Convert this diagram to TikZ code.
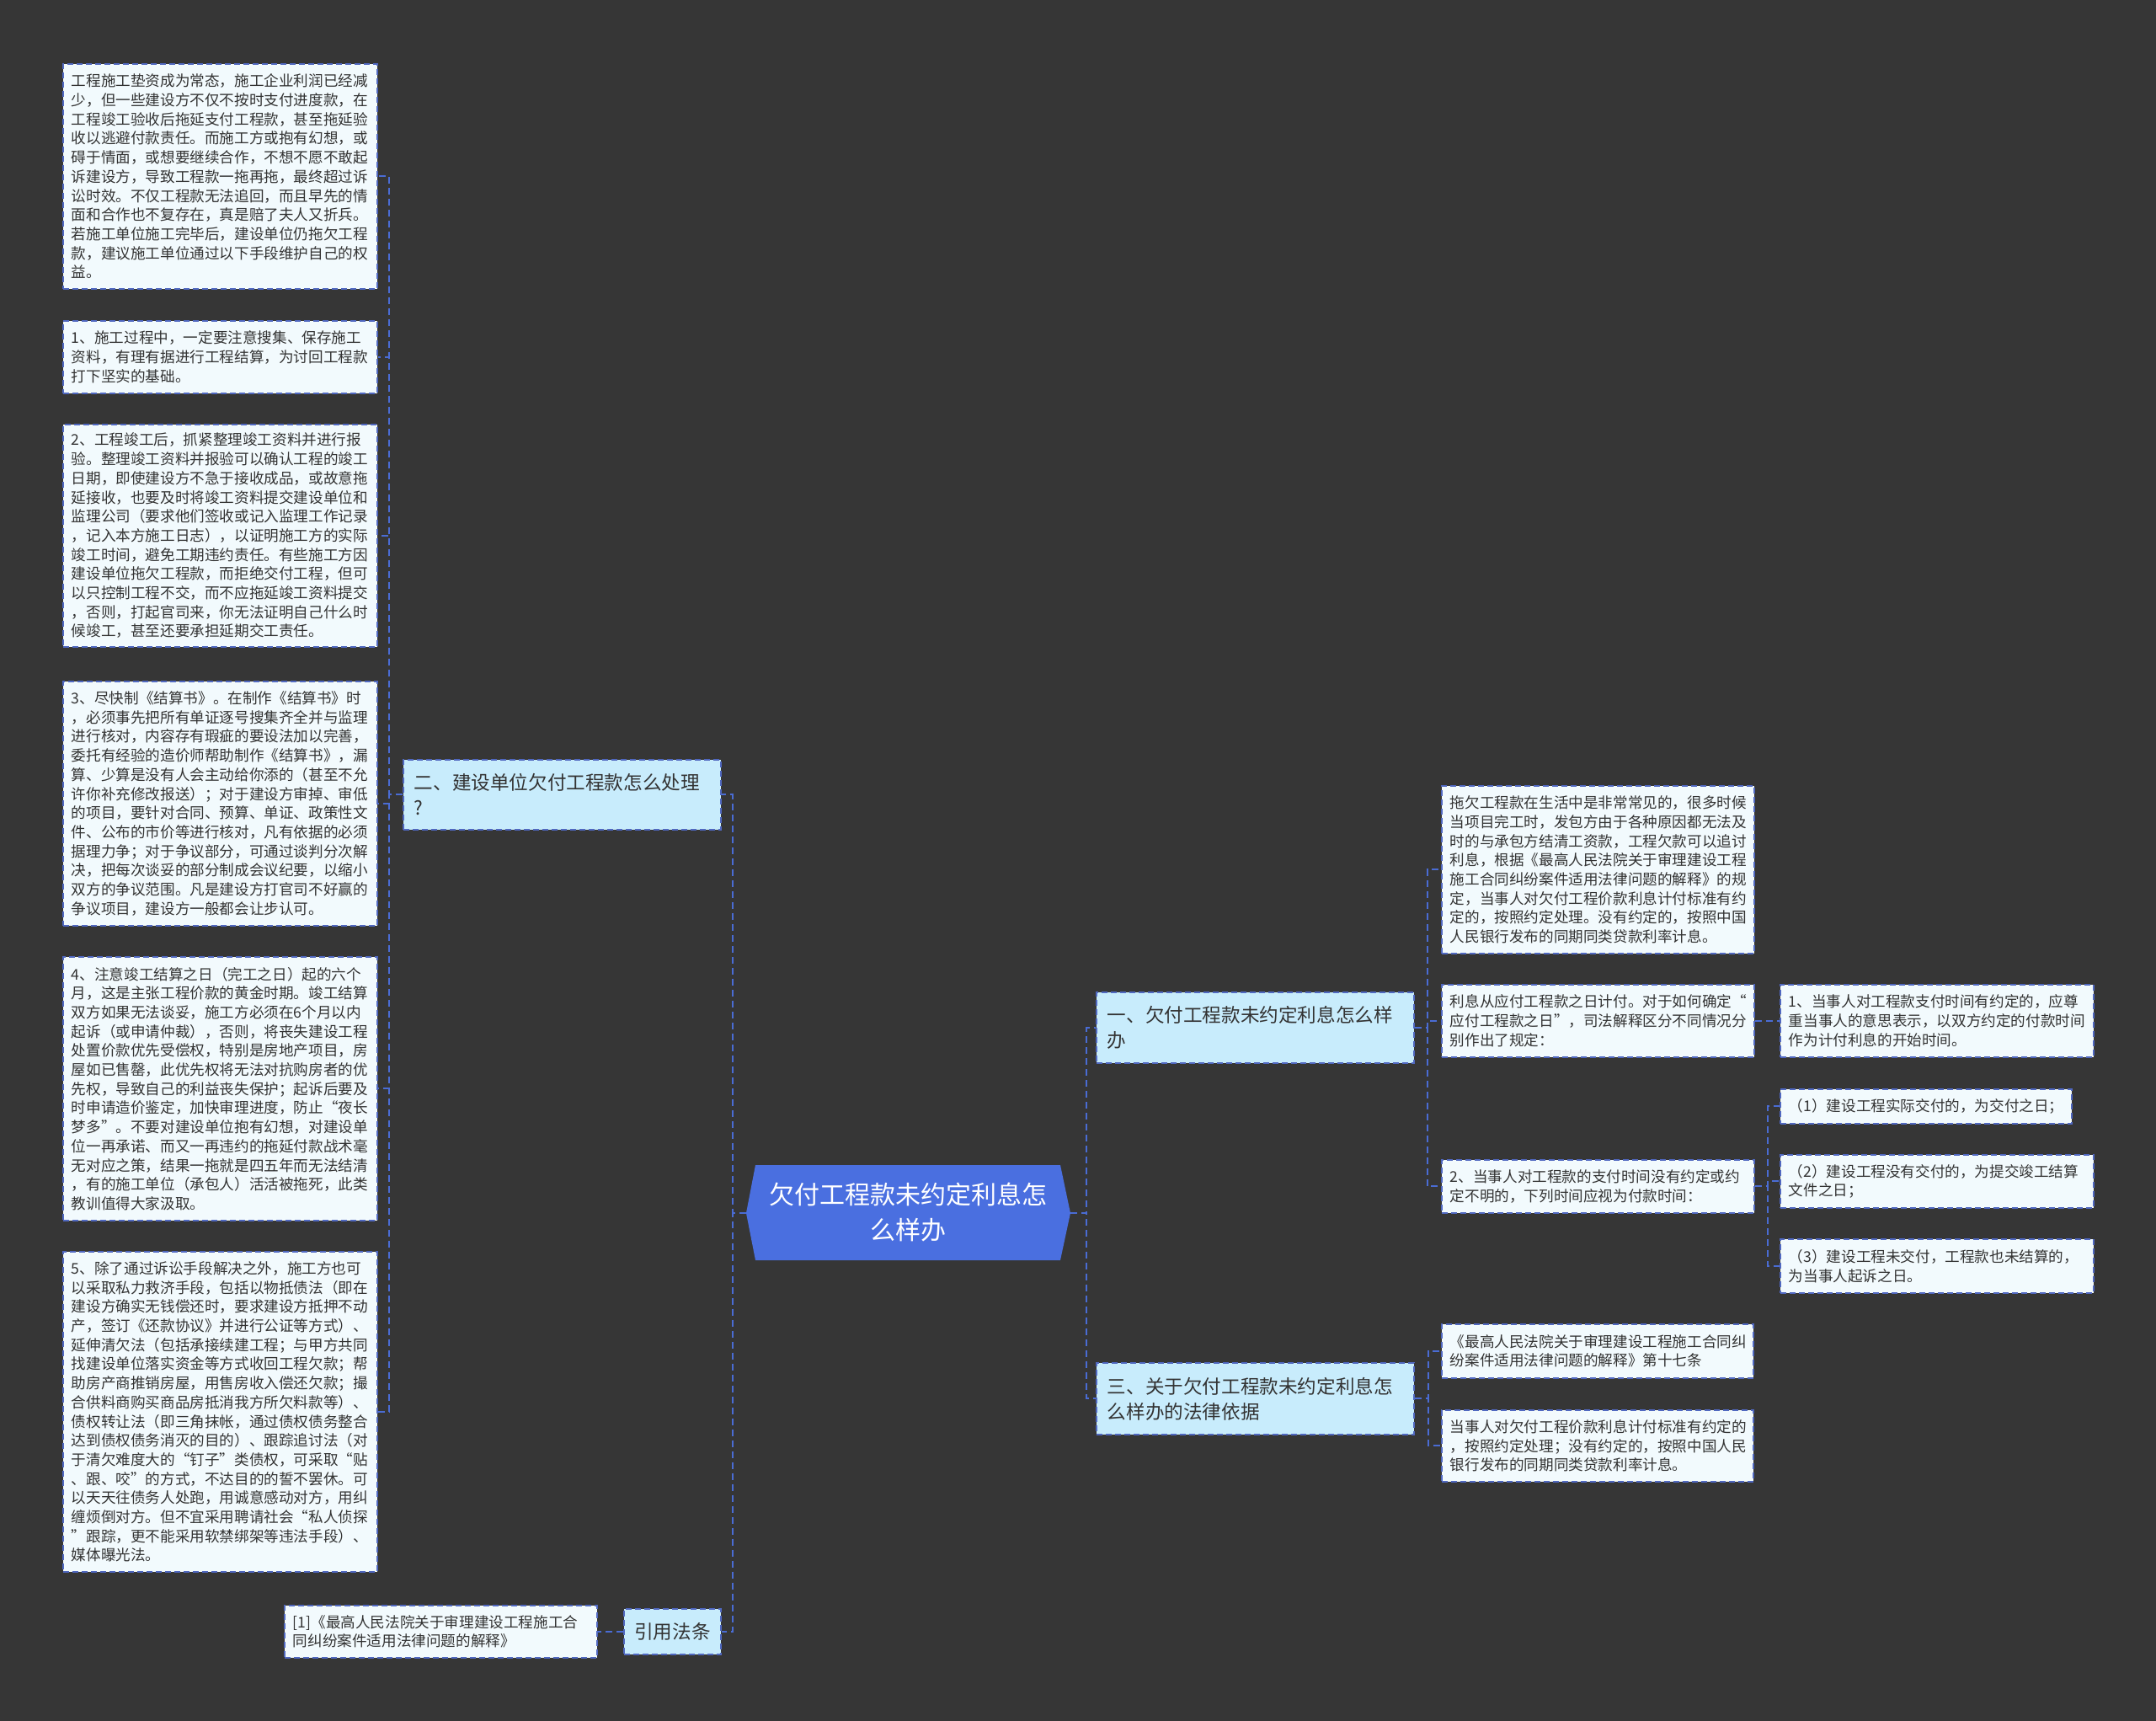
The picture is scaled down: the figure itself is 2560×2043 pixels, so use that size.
\documentclass[tikz,border=0pt]{standalone}
\usepackage{fontspec}
\setmainfont{Noto Sans CJK SC}
\usepackage{xcolor}
\usepackage{tikz}
\definecolor{bgdark}{HTML}{363636}
\definecolor{leaffill}{HTML}{F2FAFD}
\definecolor{topicfill}{HTML}{C8ECFC}
\definecolor{edgeblue}{HTML}{5068C0}
\definecolor{linkblue}{HTML}{4A6CD4}
\definecolor{rootblue}{HTML}{4A6FE0}
\definecolor{inkgray}{HTML}{333333}

\begin{document}
\begin{tikzpicture}[x=0.5pt, y=-0.5pt,
  link/.style={draw=linkblue, line width=1pt, dash pattern=on 4pt off 2.5pt},
  leaf/.style={draw=edgeblue, line width=0.9pt, dash pattern=on 3.5pt off 2pt,
    fill=leaffill, text=inkgray, anchor=north west, align=left,
    inner xsep=5pt, inner ysep=2pt, text width=176.5pt,
    font=\fontsize{8.8pt}{11.35pt}\selectfont},
  topic/.style={leaf, fill=topicfill, inner xsep=6.5pt, text width=175.5pt,
    font=\fontsize{11.3pt}{15pt}\selectfont}]
  \fill[bgdark] (0,0) rectangle (2560,2043);
  \useasboundingbox (0,0) rectangle (2560,2043);

  \fill[rootblue] (886,1440) -- (897,1383) -- (1259,1383) -- (1271,1440)
    -- (1259,1496) -- (897,1496) -- cycle;
  \node[text=white, align=center, inner sep=0pt, minimum width=192.5pt,
    minimum height=56.5pt, font=\fontsize{15pt}{21pt}\selectfont]
    (root) at (1078.5,1439.5) {欠付工程款未约定利息怎\\么样办};

  \node[topic, minimum height=41.5pt] (er) at (478,901) {二、建设单位欠付工程款怎么处理\\?};
  \node[topic, minimum height=27pt, inner xsep=6pt, text width=45.5pt, align=center]
    (cite) at (740,1909) {引用法条};
  \node[leaf, minimum height=31pt, text width=175.5pt] (ref) at (337,1905)
    {[1]《最高人民法院关于审理建设工程施工合\\同纠纷案件适用法律问题的解释》};
  \node[topic, minimum height=42pt] (yi) at (1301,1177) {一、欠付工程款未约定利息怎么样\\办};
  \node[topic, minimum height=42.5pt] (san) at (1301,1617) {三、关于欠付工程款未约定利息怎\\么样办的法律依据};

  \node[leaf, minimum height=133.5pt] (a0) at (74,75) {工程施工垫资成为常态，施工企业利润已经减\\少，但一些建设方不仅不按时支付进度款，在\\工程竣工验收后拖延支付工程款，甚至拖延验\\收以逃避付款责任。而施工方或抱有幻想，或\\碍于情面，或想要继续合作，不想不愿不敢起\\诉建设方，导致工程款一拖再拖，最终超过诉\\讼时效。不仅工程款无法追回，而且早先的情\\面和合作也不复存在，真是赔了夫人又折兵。\\若施工单位施工完毕后，建设单位仍拖欠工程\\款，建议施工单位通过以下手段维护自己的权\\益。};
  \node[leaf, minimum height=43pt] (a1) at (74,380) {1、施工过程中，一定要注意搜集、保存施工\\资料，有理有据进行工程结算，为讨回工程款\\打下坚实的基础。};
  \node[leaf, minimum height=132pt] (a2) at (74,503) {2、工程竣工后，抓紧整理竣工资料并进行报\\验。整理竣工资料并报验可以确认工程的竣工\\日期，即使建设方不急于接收成品，或故意拖\\延接收，也要及时将竣工资料提交建设单位和\\监理公司（要求他们签收或记入监理工作记录\\，记入本方施工日志），以证明施工方的实际\\竣工时间，避免工期违约责任。有些施工方因\\建设单位拖欠工程款，而拒绝交付工程，但可\\以只控制工程不交，而不应拖延竣工资料提交\\，否则，打起官司来，你无法证明自己什么时\\候竣工，甚至还要承担延期交工责任。};
  \node[leaf, minimum height=145pt] (a3) at (74,808) {3、尽快制《结算书》。在制作《结算书》时\\，必须事先把所有单证逐号搜集齐全并与监理\\进行核对，内容存有瑕疵的要设法加以完善，\\委托有经验的造价师帮助制作《结算书》，漏\\算、少算是没有人会主动给你添的（甚至不允\\许你补充修改报送）；对于建设方审掉、审低\\的项目，要针对合同、预算、单证、政策性文\\件、公布的市价等进行核对，凡有依据的必须\\据理力争；对于争议部分，可通过谈判分次解\\决，把每次谈妥的部分制成会议纪要，以缩小\\双方的争议范围。凡是建设方打官司不好赢的\\争议项目，建设方一般都会让步认可。};
  \node[leaf, minimum height=156.5pt] (a4) at (74,1135) {4、注意竣工结算之日（完工之日）起的六个\\月，这是主张工程价款的黄金时期。竣工结算\\双方如果无法谈妥，施工方必须在6个月以内\\起诉（或申请仲裁），否则，将丧失建设工程\\处置价款优先受偿权，特别是房地产项目，房\\屋如已售罄，此优先权将无法对抗购房者的优\\先权，导致自己的利益丧失保护；起诉后要及\\时申请造价鉴定，加快审理进度，防止“夜长\\梦多”。不要对建设单位抱有幻想，对建设单\\位一再承诺、而又一再违约的拖延付款战术毫\\无对应之策，结果一拖就是四五年而无法结清\\，有的施工单位（承包人）活活被拖死，此类\\教训值得大家汲取。};
  \node[leaf, minimum height=190pt] (a5) at (74,1485) {5、除了通过诉讼手段解决之外，施工方也可\\以采取私力救济手段，包括以物抵债法（即在\\建设方确实无钱偿还时，要求建设方抵押不动\\产，签订《还款协议》并进行公证等方式）、\\延伸清欠法（包括承接续建工程；与甲方共同\\找建设单位落实资金等方式收回工程欠款；帮\\助房产商推销房屋，用售房收入偿还欠款；撮\\合供料商购买商品房抵消我方所欠料款等）、\\债权转让法（即三角抹帐，通过债权债务整合\\达到债权债务消灭的目的）、跟踪追讨法（对\\于清欠难度大的“钉子”类债权，可采取“贴\\、跟、咬”的方式，不达目的的誓不罢休。可\\以天天往债务人处跑，用诚意感动对方，用纠\\缠烦倒对方。但不宜采用聘请社会“私人侦探\\”跟踪，更不能采用软禁绑架等违法手段）、\\媒体曝光法。};

  \node[leaf, minimum height=99.5pt, text width=175.5pt] (p1) at (1711,932) {拖欠工程款在生活中是非常常见的，很多时候\\当项目完工时，发包方由于各种原因都无法及\\时的与承包方结清工资款，工程欠款可以追讨\\利息，根据《最高人民法院关于审理建设工程\\施工合同纠纷案件适用法律问题的解释》的规\\定，当事人对欠付工程价款利息计付标准有约\\定的，按照约定处理。没有约定的，按照中国\\人民银行发布的同期同类贷款利率计息。};
  \node[leaf, minimum height=43pt, text width=175.5pt] (p2) at (1711,1168) {利息从应付工程款之日计付。对于如何确定“\\应付工程款之日”，司法解释区分不同情况分\\别作出了规定：};
  \node[leaf, minimum height=31.5pt, text width=175.5pt] (p3) at (1711,1376) {2、当事人对工程款的支付时间没有约定或约\\定不明的，下列时间应视为付款时间：};
  \node[leaf, minimum height=43pt, text width=176pt] (q1) at (2113,1168) {1、当事人对工程款支付时间有约定的，应尊\\重当事人的意思表示，以双方约定的付款时间\\作为计付利息的开始时间。};
  \node[leaf, minimum height=20.5pt, text width=163pt] (r1) at (2113,1292) {（1）建设工程实际交付的，为交付之日；};
  \node[leaf, minimum height=31.5pt, text width=176pt] (r2) at (2113,1370) {（2）建设工程没有交付的，为提交竣工结算\\文件之日；};
  \node[leaf, minimum height=32pt, text width=176pt] (r3) at (2113,1470) {（3）建设工程未交付，工程款也未结算的，\\为当事人起诉之日。};
  \node[leaf, minimum height=32pt, text width=175pt] (s1) at (1711,1571) {《最高人民法院关于审理建设工程施工合同纠\\纷案件适用法律问题的解释》第十七条};
  \node[leaf, minimum height=42.5pt, text width=175pt] (s2) at (1711,1673) {当事人对欠付工程价款利息计付标准有约定的\\，按照约定处理；没有约定的，按照中国人民\\银行发布的同期同类贷款利率计息。};

  \foreach \n in {er,cite} \draw[link] (root.west) -- ++(-16,0) |- (\n.east);
  \foreach \n in {yi,san} \draw[link] (root.east) -- ++(19,0) |- (\n.west);
  \foreach \n in {a0,a1,a2,a3,a4,a5} \draw[link] (er.west) -- ++(-16,0) |- (\n.east);
  \foreach \n in {p1,p2,p3} \draw[link] (yi.east) -- ++(15,0) |- (\n.west);
  \foreach \n in {r1,r2,r3} \draw[link] (p3.east) -- ++(15,0) |- (\n.west);
  \foreach \n in {s1,s2} \draw[link] (san.east) -- ++(16,0) |- (\n.west);
  \draw[link] (p2.east) -- (q1.west);
  \draw[link] (cite.west) -- (ref.east);
\end{tikzpicture}
\end{document}
